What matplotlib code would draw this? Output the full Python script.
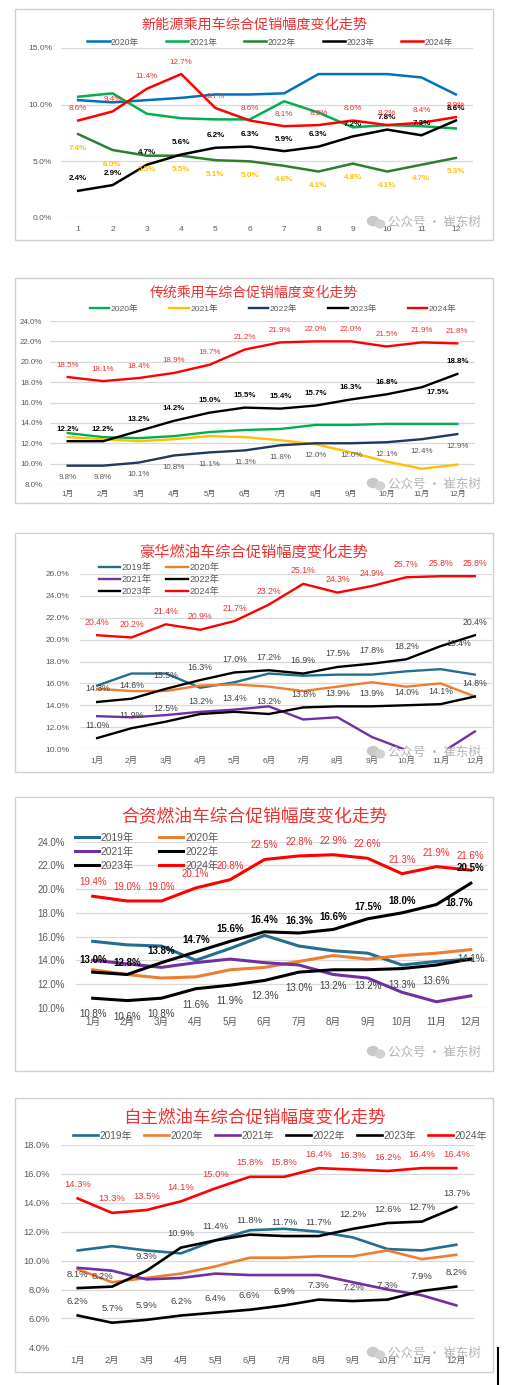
import numpy as np
import matplotlib
matplotlib.use('Agg')
import matplotlib.pyplot as plt
from matplotlib.patches import Rectangle, Ellipse
from matplotlib.lines import Line2D
from matplotlib.ticker import FuncFormatter

LATIN = ['Liberation Sans', 'Noto Sans CJK SC', 'DejaVu Sans']
CJK = ['Noto Sans CJK SC', 'DejaVu Sans']
plt.rcParams['font.family'] = LATIN

# ---- data (percent) ----
months_num = ['1', '2', '3', '4', '5', '6', '7', '8', '9', '10', '11', '12']
months_cn = ['1月', '2月', '3月', '4月', '5月', '6月', '7月', '8月', '9月', '10月', '11月', '12月']

# 新能源乘用车
nev_2020 = [10.4, 10.2, 10.4, 10.6, 10.9, 10.9, 11.0, 12.7, 12.7, 12.7, 12.4, 10.9]
nev_2021 = [10.7, 11.0, 9.2, 8.8, 8.7, 8.7, 10.3, 9.3, 8.0, 8.2, 8.1, 7.9]
nev_2022 = [7.4, 6.0, 5.5, 5.5, 5.1, 5.0, 4.6, 4.1, 4.8, 4.1, 4.7, 5.3]
nev_2023 = [2.4, 2.9, 4.7, 5.6, 6.2, 6.3, 5.9, 6.3, 7.2, 7.8, 7.3, 8.6]
nev_2024 = [8.6, 9.4, 11.4, 12.7, 9.7, 8.6, 8.1, 8.2, 8.6, 8.2, 8.4, 8.9]

# 传统乘用车
trad_2020 = [13.0, 12.6, 12.5, 12.7, 13.1, 13.3, 13.4, 13.8, 13.8, 13.9, 13.9, 13.9]
trad_2021 = [12.6, 12.4, 12.2, 12.4, 12.7, 12.6, 12.3, 11.9, 11.1, 10.2, 9.5, 9.9]
trad_2022 = [9.8, 9.8, 10.1, 10.8, 11.1, 11.3, 11.8, 12.0, 12.0, 12.1, 12.4, 12.9]
trad_2023 = [12.2, 12.2, 13.2, 14.2, 15.0, 15.5, 15.4, 15.7, 16.3, 16.8, 17.5, 18.8]
trad_2024 = [18.5, 18.1, 18.4, 18.9, 19.7, 21.2, 21.9, 22.0, 22.0, 21.5, 21.9, 21.8]

# 豪华燃油车
lux_2019 = [15.8, 16.9, 16.9, 15.6, 16.1, 16.9, 16.7, 16.8, 16.8, 17.1, 17.3, 16.8]
lux_2020 = [15.5, 15.3, 15.3, 15.8, 15.9, 15.7, 15.3, 15.7, 16.1, 15.7, 16.0, 14.8]
lux_2021 = [13.0, 12.9, 13.1, 13.4, 13.6, 13.9, 12.7, 12.9, 11.1, 9.9, 9.6, 11.6]
lux_2022 = [11.0, 11.9, 12.5, 13.2, 13.4, 13.2, 13.8, 13.9, 13.9, 14.0, 14.1, 14.8]
lux_2023 = [14.3, 14.6, 15.5, 16.3, 17.0, 17.2, 16.9, 17.5, 17.8, 18.2, 19.4, 20.4]
lux_2024 = [20.4, 20.2, 21.4, 20.9, 21.7, 23.2, 25.1, 24.3, 24.9, 25.7, 25.8, 25.8]

# 合资燃油车
jv_2019 = [15.6, 15.3, 15.2, 14.0, 15.0, 16.1, 15.2, 14.8, 14.6, 13.6, 13.9, 14.1]
jv_2020 = [13.2, 12.8, 12.5, 12.6, 13.2, 13.4, 13.9, 14.4, 14.1, 14.4, 14.6, 14.9]
jv_2021 = [14.0, 13.7, 13.4, 13.8, 14.1, 13.8, 13.6, 12.8, 12.5, 11.3, 10.5, 11.0]
jv_2022 = [10.8, 10.6, 10.8, 11.6, 11.9, 12.3, 13.0, 13.2, 13.2, 13.3, 13.6, 14.1]
jv_2023 = [13.0, 12.8, 13.8, 14.7, 15.6, 16.4, 16.3, 16.6, 17.5, 18.0, 18.7, 20.5]
jv_2024 = [19.4, 19.0, 19.0, 20.1, 20.8, 22.5, 22.8, 22.9, 22.6, 21.3, 21.9, 21.6]

# 自主燃油车
own_2019 = [10.7, 11.0, 10.7, 10.5, 11.4, 12.1, 12.2, 12.0, 11.6, 10.8, 10.7, 11.1]
own_2020 = [9.4, 8.5, 8.8, 9.1, 9.6, 10.2, 10.2, 10.3, 10.3, 10.7, 10.1, 10.4]
own_2021 = [9.5, 9.3, 8.7, 8.8, 9.1, 9.0, 9.0, 9.0, 8.5, 8.0, 7.6, 6.9]
own_2022 = [6.2, 5.7, 5.9, 6.2, 6.4, 6.6, 6.9, 7.3, 7.2, 7.3, 7.9, 8.2]
own_2023 = [8.1, 8.2, 9.3, 10.9, 11.4, 11.8, 11.7, 11.7, 12.2, 12.6, 12.7, 13.7]
own_2024 = [14.3, 13.3, 13.5, 14.1, 15.0, 15.8, 15.8, 16.4, 16.3, 16.2, 16.4, 16.4]

W, H = 509, 1385
fig = plt.figure(figsize=(W / 100, H / 100), dpi=100)
x = np.arange(1, 13)

RED = '#FF0000'
RED_TXT = '#EE3030'
GRAY_TXT = '#595959'
TEAL, ORANGE, PURPLE = '#236E8E', '#ED7D31', '#7030A0'


def px_axes(x0, y0, x1, y1):
    return fig.add_axes([x0 / W, 1 - y1 / H, (x1 - x0) / W, (y1 - y0) / H])


def panel_box(x0, y0, x1, y1):
    fig.patches.append(Rectangle((x0 / W, 1 - y1 / H), (x1 - x0) / W, (y1 - y0) / H,
                                 transform=fig.transFigure, fill=False,
                                 ec='#D0D0D0', lw=1.0))


def style_axes(ax, ylim, step, xlabels, fs, ypad, xpad):
    ax.set_xlim(0.5, 12.5)
    ax.set_ylim(*ylim)
    ax.set_yticks(np.arange(ylim[0], ylim[1] + 0.01, step))
    ax.yaxis.set_major_formatter(FuncFormatter(lambda v, p: f'{v:.1f}%'))
    ax.set_xticks(x, xlabels)
    for s in ax.spines.values():
        s.set_visible(False)
    ax.tick_params(length=0, colors=GRAY_TXT, labelsize=fs)
    ax.tick_params(axis='y', pad=ypad)
    ax.tick_params(axis='x', pad=xpad)
    ax.grid(axis='y', color='#D9D9D9', lw=0.9)
    ax.set_axisbelow(True)
    ax.patch.set_alpha(0)


def add_labels(ax, vals, dy, color, fs, weight='normal', moved=None):
    moved = moved or {}
    for i, v in enumerate(vals):
        dx, d = moved.get(i, (0, dy))
        ax.annotate(f'{v:.1f}%', (i + 1, v), xytext=(dx, d), textcoords='offset pixels',
                    ha='center', va='center', fontsize=fs, color=color,
                    fontweight=weight, annotation_clip=False)


def title(text, cy, fs):
    fig.text(254 / W, 1 - cy / H, text, ha='center', va='center', color=RED_TXT,
             fontsize=fs, family=CJK)


def watermark(cy):
    fig.patches.append(Ellipse((373 / W, 1 - (cy - 1) / H), 11 / W, 9 / H,
                               transform=fig.transFigure, color='#C8C8C8'))
    fig.patches.append(Ellipse((380 / W, 1 - (cy + 2) / H), 9 / W, 8 / H,
                               transform=fig.transFigure, color='#D2D2D2'))
    fig.text(388 / W, 1 - cy / H, '公众号 · 崔东树', ha='left', va='center',
             color='#B4B4B4', fontsize=9, family=CJK)


def legend(ax, lines, names, cx, cy, ncol, fs, hl, cs, ls=0.3):
    ax.legend(lines, names, loc='center', bbox_to_anchor=(cx / W, 1 - cy / H),
              bbox_transform=fig.transFigure, ncol=ncol, frameon=False, fontsize=fs,
              handlelength=hl, columnspacing=cs, handletextpad=0.15,
              labelspacing=ls, labelcolor=GRAY_TXT, borderpad=0)


# ---------- panel 1: 新能源乘用车 ----------
panel_box(15, 9, 493, 240)
ax = px_axes(61, 48, 473, 218)
style_axes(ax, (0, 15), 5, months_num, 6, 6.5, 6)
lw = 1.8
l1 = [ax.plot(x, nev_2020, color='#0070C0', lw=lw)[0],
      ax.plot(x, nev_2021, color='#00B050', lw=lw)[0],
      ax.plot(x, nev_2022, color='#2E7D32', lw=lw)[0],
      ax.plot(x, nev_2023, color='black', lw=lw)[0],
      ax.plot(x, nev_2024, color=RED, lw=lw)[0]]
add_labels(ax, nev_2022, -14, '#FFC000', 5.8, 'bold')
add_labels(ax, nev_2023, 12, 'black', 5.8, 'bold')
add_labels(ax, nev_2024, 12, RED_TXT, 5.8)
legend(ax, l1, ['2020年', '2021年', '2022年', '2023年', '2024年'], 270, 42, 5, 6.2, 2.6, 3.1)
title('新能源乘用车综合促销幅度变化走势', 25, 10.2)
watermark(222)

# ---------- panel 2: 传统乘用车 ----------
panel_box(15, 278, 493, 503)
ax = px_axes(50, 321, 475, 484)
style_axes(ax, (8, 24), 2, months_cn, 5.7, 5.5, 5)
lw = 1.7
l2 = [ax.plot(x, trad_2020, color='#00B050', lw=lw)[0],
      ax.plot(x, trad_2021, color='#FFC000', lw=lw)[0],
      ax.plot(x, trad_2022, color='#1F3864', lw=lw)[0],
      ax.plot(x, trad_2023, color='black', lw=lw)[0],
      ax.plot(x, trad_2024, color=RED, lw=lw)[0]]
add_labels(ax, trad_2022, -12, GRAY_TXT, 5.7)
add_labels(ax, trad_2023, 12, 'black', 5.7, 'bold', moved={10: (16, -5)})
add_labels(ax, trad_2024, 12, RED_TXT, 5.7)
legend(ax, l2, ['2020年', '2021年', '2022年', '2023年', '2024年'], 273, 309, 5, 6.1, 2.3, 3.7)
title('传统乘用车综合促销幅度变化走势', 293, 10)
watermark(484)

# ---------- panel 3: 豪华燃油车 ----------
panel_box(15, 533, 493, 772)
ax = px_axes(80, 574, 492, 749)
style_axes(ax, (10, 26), 2, months_cn, 6, 7.5, 6)
lw = 1.7
l3 = [ax.plot(x, lux_2019, color=TEAL, lw=lw)[0],
      ax.plot(x, lux_2020, color=ORANGE, lw=lw)[0],
      ax.plot(x, lux_2021, color=PURPLE, lw=lw)[0],
      ax.plot(x, lux_2022, color='black', lw=lw)[0],
      ax.plot(x, lux_2023, color='black', lw=lw)[0],
      ax.plot(x, lux_2024, color=RED, lw=lw)[0]]
add_labels(ax, lux_2022, 13, '#404040', 6.3)
add_labels(ax, lux_2023, 13, '#404040', 6.3, moved={10: (18, 3)})
add_labels(ax, lux_2024, 13, RED_TXT, 6.3)
names3 = ['2019年', '2021年', '2023年', '2020年', '2022年', '2024年']
legend(ax, [l3[0], l3[2], l3[4], l3[1], l3[3], l3[5]], names3, 159, 579.5, 2, 6.7, 2.3, 1.6, 0.3)
title('豪华燃油车综合促销幅度变化走势', 552, 11)
watermark(752)

# ---------- panel 4: 合资燃油车 ----------
panel_box(15, 797, 493, 1071)
ax = px_axes(75.5, 841.7, 488, 1007.7)
style_axes(ax, (10, 24), 2, months_cn, 7, 7.5, 6.5)
lw = 2.2
l4 = [ax.plot(x, jv_2019, color=TEAL, lw=lw)[0],
      ax.plot(x, jv_2020, color=ORANGE, lw=lw)[0],
      ax.plot(x, jv_2021, color=PURPLE, lw=lw)[0],
      ax.plot(x, jv_2022, color='black', lw=lw)[0],
      ax.plot(x, jv_2023, color='black', lw=lw)[0],
      ax.plot(x, jv_2024, color=RED, lw=lw)[0]]
add_labels(ax, jv_2022, -16, '#404040', 7, moved={11: (0, 0)})
add_labels(ax, jv_2023, 12, 'black', 7, 'bold', moved={10: (23, 2), 11: (0, 15)})
add_labels(ax, jv_2024, 14, RED_TXT, 7)
legend(ax, [l4[0], l4[2], l4[4], l4[1], l4[3], l4[5]], names3, 146.5, 851.7, 2, 7.4, 2.4, 2.4, 0.38)
title('合资燃油车综合促销幅度变化走势', 817, 12.8)
watermark(1052)

# ---------- panel 5: 自主燃油车 ----------
panel_box(15, 1098, 493, 1372)
ax = px_axes(60.5, 1145, 473.5, 1347.3)
style_axes(ax, (4, 18), 2, months_cn, 6.7, 7.5, 6)
lw = 1.9
l5 = [ax.plot(x, own_2019, color=TEAL, lw=lw)[0],
      ax.plot(x, own_2020, color=ORANGE, lw=lw)[0],
      ax.plot(x, own_2021, color=PURPLE, lw=lw)[0],
      ax.plot(x, own_2022, color='black', lw=lw)[0],
      ax.plot(x, own_2023, color='black', lw=lw)[0],
      ax.plot(x, own_2024, color=RED, lw=lw)[0]]
add_labels(ax, own_2022, 14, '#404040', 6.8)
add_labels(ax, own_2023, 14, '#404040', 6.8, moved={1: (-10, 10)})
add_labels(ax, own_2024, 14, RED_TXT, 6.8)
legend(ax, l5, ['2019年', '2020年', '2021年', '2022年', '2023年', '2024年'], 280, 1135.7, 6, 7.2, 2.5, 1.2)
title('自主燃油车综合促销幅度变化走势', 1118, 12.6)
watermark(1353)

fig.add_artist(Line2D([498 / W, 498 / W], [1 - 1348 / H, 0], transform=fig.transFigure,
                      color='black', lw=1.5))

fig.savefig('out.png', dpi=100)
